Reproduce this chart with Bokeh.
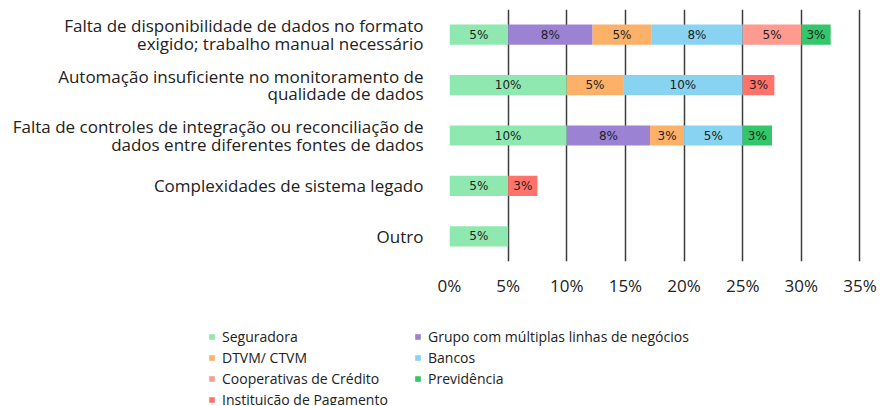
from bokeh.plotting import figure
from bokeh.models import ColumnDataSource, FactorRange, Range1d, FixedTicker, Legend, LegendItem
from bokeh.core.properties import value
from bokeh.embed import file_html
from bokeh.resources import INLINE

categories = [
    "Falta de disponibilidade de dados no formato\nexigido; trabalho manual necessário",
    "Automação insuficiente no monitoramento de\nqualidade de dados",
    "Falta de controles de integração ou reconciliação de\ndados entre diferentes fontes de dados",
    "Complexidades de sistema legado",
    "Outro",
]

series_names = ["Seguradora", "Grupo com múltiplas linhas de negócios", "DTVM/ CTVM", "Bancos",
                "Cooperativas de Crédito", "Previdência", "Instituição de Pagamento"]
colors = ["#8EE8B0", "#9B82D3", "#FDB068", "#87D3F1", "#FF9A91", "#33C66A", "#FF736A"]

seguradora = [5.0, 10.0, 10.0, 5.0, 5.0]
grupo = [7.2, 0.0, 7.1, 0.0, 0.0]
dtvm = [5.0, 4.8, 2.9, 0.0, 0.0]
bancos = [7.8, 10.2, 5.0, 0.0, 0.0]
cooperativas = [5.0, 0.0, 0.0, 0.0, 0.0]
previdencia = [2.5, 0.0, 2.5, 0.0, 0.0]
instituicao = [0.0, 2.7, 0.0, 2.5, 0.0]

seguradora_lbl = ["5%", "10%", "10%", "5%", "5%"]
grupo_lbl = ["8%", "", "8%", "", ""]
dtvm_lbl = ["5%", "5%", "3%", "", ""]
bancos_lbl = ["8%", "10%", "5%", "", ""]
cooperativas_lbl = ["5%", "", "", "", ""]
previdencia_lbl = ["3%", "", "3%", "", ""]
instituicao_lbl = ["", "3%", "", "3%", ""]

series = [seguradora, grupo, dtvm, bancos, cooperativas, previdencia, instituicao]
labels = [seguradora_lbl, grupo_lbl, dtvm_lbl, bancos_lbl, cooperativas_lbl, previdencia_lbl, instituicao_lbl]

x_ticks = [0, 5, 10, 15, 20, 25, 30, 35]
x_tick_labels = ["0%", "5%", "10%", "15%", "20%", "25%", "30%", "35%"]

FONT = "Open Sans"
TXT = "#222222"

p = figure(width=880, height=305, output_backend="svg", toolbar_location=None,
           y_range=FactorRange(factors=categories[::-1]), x_range=Range1d(0, 35.3),
           min_border_left=449, min_border_right=17, min_border_top=9, min_border_bottom=44)
p.outline_line_color = None

base = [0.0] * len(categories)
for name, col, vals, lbls in zip(series_names, colors, series, labels):
    cats, lefts, rights, mids, texts = [], [], [], [], []
    for i, v in enumerate(vals):
        if v > 0:
            cats.append(categories[i])
            lefts.append(base[i])
            rights.append(base[i] + v)
            mids.append(base[i] + v / 2)
            texts.append(lbls[i])
        base[i] += v
    src = ColumnDataSource(dict(cat=cats, left=lefts, right=rights, mid=mids, text=texts))
    p.hbar(y="cat", left="left", right="right", height=0.4, source=src,
           fill_color=col, line_color=None)
    p.text(x="mid", y="cat", text="text", source=src, text_align="center", text_baseline="middle",
           text_font=value("DejaVu Sans"), text_font_size="12px", text_color=TXT)

p.xgrid.ticker = FixedTicker(ticks=x_ticks)
p.xgrid.grid_line_color = "#3c3c3c"
p.xgrid.grid_line_width = 1.5
p.ygrid.grid_line_color = None

p.xaxis.ticker = FixedTicker(ticks=x_ticks)
p.xaxis.major_label_overrides = {t: l for t, l in zip(x_ticks, x_tick_labels)}
for ax in (p.xaxis, p.yaxis):
    ax.axis_line_color = None
    ax.major_tick_line_color = None
    ax.minor_tick_line_color = None
    ax.major_tick_out = 0
    ax.major_tick_in = 0
    ax.minor_tick_out = 0
    ax.major_label_text_font = FONT
    ax.major_label_text_color = TXT
p.xaxis.major_label_text_font_size = "17px"
p.xaxis.major_label_standoff = 12
p.yaxis.major_label_text_font_size = "17px"
p.yaxis.major_label_text_line_height = 0.76
p.yaxis.major_label_standoff = 26

# legend panel (separate root so its frame is not aligned with the chart's)
q = figure(width=880, height=100, output_backend="svg", toolbar_location=None,
           x_range=Range1d(0, 1), y_range=Range1d(0, 1),
           min_border=0, min_border_left=0, min_border_right=0, min_border_top=0, min_border_bottom=0)
q.axis.visible = False
q.grid.visible = False
q.outline_line_color = None

leg_items = []
for name, col in zip(series_names, colors):
    r = q.hbar(y=[5], left=[5], right=[5], height=0.4, fill_color=col, line_color=None)
    leg_items.append(LegendItem(label=name, renderers=[r]))

leg_kw = dict(label_text_font=FONT, label_text_font_size="14px", label_text_color=TXT,
              glyph_width=7, glyph_height=7, label_standoff=7, spacing=2, label_height=18,
              border_line_color=None, background_fill_alpha=0, padding=0, margin=0)
leg1 = Legend(items=[leg_items[i] for i in (0, 2, 4, 6)], location=(208, -4), **leg_kw)
leg2 = Legend(items=[leg_items[i] for i in (1, 3, 5)], location=(414, 17), **leg_kw)
q.add_layout(leg1, "center")
q.add_layout(leg2, "center")

open("out.html", "w").write(file_html([p, q], INLINE))
